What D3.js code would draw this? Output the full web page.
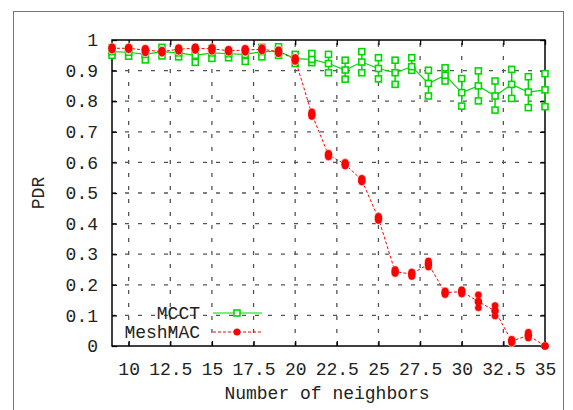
<!DOCTYPE html>
<html>
<head>
<meta charset="utf-8">
<script src="https://cdn.jsdelivr.net/npm/d3@7"></script>
<style>
  body { margin: 0; background: #fff; }
  text { font-family: "Liberation Mono", "DejaVu Sans Mono", monospace; fill: #222; }
</style>
</head>
<body>
<script>
// number of neighbors (x)
var neighbors = [9, 10, 11, 12, 13, 14, 15, 16, 17, 18, 19, 20, 21, 22, 23, 24, 25, 26, 27, 28, 29, 30, 31, 32, 33, 34, 35];

// MCCT: mean, lower, upper
var mcctMean = [0.962, 0.960, 0.953, 0.962, 0.958, 0.950, 0.958, 0.955, 0.953, 0.962, 0.963, 0.939, 0.937, 0.923, 0.902, 0.928, 0.907, 0.893, 0.913, 0.858, 0.885, 0.828, 0.850, 0.817, 0.855, 0.830, 0.837];
var mcctLow  = [0.950, 0.947, 0.935, 0.948, 0.945, 0.927, 0.940, 0.942, 0.930, 0.945, 0.950, 0.923, 0.926, 0.893, 0.872, 0.893, 0.873, 0.855, 0.901, 0.817, 0.866, 0.784, 0.801, 0.771, 0.809, 0.779, 0.782];
var mcctHigh = [0.975, 0.972, 0.962, 0.976, 0.970, 0.968, 0.972, 0.965, 0.966, 0.976, 0.978, 0.953, 0.956, 0.953, 0.934, 0.962, 0.942, 0.934, 0.942, 0.901, 0.909, 0.874, 0.899, 0.866, 0.904, 0.880, 0.890];

// MeshMAC: mean, lower, upper
var meshMean = [0.973, 0.973, 0.967, 0.962, 0.970, 0.973, 0.971, 0.965, 0.967, 0.970, 0.962, 0.937, 0.758, 0.624, 0.594, 0.542, 0.417, 0.243, 0.235, 0.268, 0.174, 0.178, 0.145, 0.115, 0.016, 0.035, 0.0];
var meshLow  = [0.967, 0.968, 0.958, 0.957, 0.963, 0.966, 0.963, 0.960, 0.960, 0.964, 0.955, 0.930, 0.750, 0.618, 0.588, 0.536, 0.410, 0.237, 0.227, 0.258, 0.168, 0.170, 0.125, 0.098, 0.010, 0.026, 0.0];
var meshHigh = [0.978, 0.977, 0.973, 0.967, 0.975, 0.978, 0.976, 0.970, 0.973, 0.975, 0.968, 0.943, 0.765, 0.630, 0.600, 0.548, 0.424, 0.250, 0.242, 0.278, 0.180, 0.184, 0.167, 0.132, 0.022, 0.045, 0.0];

var xTicks = [10, 12.5, 15, 17.5, 20, 22.5, 25, 27.5, 30, 32.5, 35];
var yTicks = [0, 0.1, 0.2, 0.3, 0.4, 0.5, 0.6, 0.7, 0.8, 0.9, 1];

var W = 573, H = 410;
var mLeft = 112, mRight = 545, mTop = 40, mBottom = 346;
var green = "#00d800", red = "#ff0000";
var fs = 18;

var svg = d3.select("body").append("svg").attr("width", W).attr("height", H);

// outer figure border
svg.append("rect")
  .attr("x", 13.5).attr("y", 11.5).attr("width", 550).attr("height", 410)
  .attr("fill", "none").attr("stroke", "#777").attr("stroke-width", 1);

var x = d3.scaleLinear().domain([9, 35]).range([mLeft, mRight]);
var y = d3.scaleLinear().domain([0, 1]).range([mBottom, mTop]);

// grid
var grid = svg.append("g").attr("stroke", "#555").attr("stroke-width", 1.3).attr("stroke-dasharray", "4,9");
grid.selectAll(".gx").data(xTicks.filter(d => d < 35)).enter().append("line")
  .attr("x1", d => x(d)).attr("x2", d => x(d)).attr("y1", mBottom).attr("y2", mTop);
grid.selectAll(".gy").data(yTicks.filter(d => d > 0 && d < 1)).enter().append("line")
  .attr("x1", mLeft).attr("x2", mRight).attr("y1", d => y(d)).attr("y2", d => y(d));

// axes with inward ticks, mirrored
svg.append("g").attr("transform", "translate(0," + mBottom + ")")
  .call(d3.axisBottom(x).tickValues(xTicks).tickSizeInner(-5).tickSizeOuter(0).tickPadding(16)
    .tickFormat(d => String(d)))
  .call(g => g.select(".domain").remove())
  .call(g => g.selectAll("text").attr("font-size", fs).attr("font-family", "Liberation Mono").attr("fill", "#222"));
svg.append("g").attr("transform", "translate(" + mLeft + ",0)")
  .call(d3.axisLeft(y).tickValues(yTicks).tickSizeInner(-5).tickSizeOuter(0).tickPadding(14)
    .tickFormat(d => String(d)))
  .call(g => g.select(".domain").remove())
  .call(g => g.selectAll("text").attr("font-size", fs).attr("font-family", "Liberation Mono").attr("fill", "#222"));
svg.append("g").attr("transform", "translate(0," + mTop + ")")
  .call(d3.axisTop(x).tickValues(xTicks).tickSizeInner(-5).tickSizeOuter(0).tickFormat(""))
  .call(g => g.select(".domain").remove());
svg.append("g").attr("transform", "translate(" + mRight + ",0)")
  .call(d3.axisRight(y).tickValues(yTicks).tickSizeInner(-5).tickSizeOuter(0).tickFormat(""))
  .call(g => g.select(".domain").remove());
svg.selectAll(".tick line").attr("stroke", "#000").attr("stroke-width", 1.3);

// frame
svg.append("rect").attr("x", mLeft).attr("y", mTop).attr("width", mRight - mLeft).attr("height", mBottom - mTop)
  .attr("fill", "none").attr("stroke", "#000").attr("stroke-width", 1.5);

// axis titles
svg.append("text").attr("x", 327).attr("y", 399).attr("text-anchor", "middle")
  .attr("font-size", fs).text("Number of neighbors");
svg.append("text").attr("transform", "translate(44,193) rotate(-90)").attr("text-anchor", "middle")
  .attr("font-size", fs).text("PDR");

function rows(mean, lo, hi) {
  return neighbors.map((n, i) => ({ n: n, m: mean[i], lo: lo[i], hi: hi[i] }));
}
var mcct = rows(mcctMean, mcctLow, mcctHigh);
var mesh = rows(meshMean, meshLow, meshHigh);
var line = d3.line().x(d => x(d.n)).y(d => y(d.m));

// MCCT series
var gG = svg.append("g");
gG.append("path").datum(mcct).attr("d", line).attr("fill", "none").attr("stroke", green).attr("stroke-width", 1.2);
gG.selectAll(".eb").data(mcct).enter().append("line")
  .attr("x1", d => x(d.n)).attr("x2", d => x(d.n)).attr("y1", d => y(d.lo)).attr("y2", d => y(d.hi))
  .attr("stroke", green).attr("stroke-width", 1.5);
mcct.forEach(function (d) {
  [d.lo, d.m, d.hi].forEach(function (v) {
    gG.append("rect").attr("x", x(d.n) - 3).attr("y", y(v) - 3).attr("width", 6).attr("height", 6)
      .attr("fill", "#fff").attr("stroke", green).attr("stroke-width", 1.6);
  });
});

// MeshMAC series
var gR = svg.append("g");
gR.append("path").datum(mesh).attr("d", line).attr("fill", "none").attr("stroke", red)
  .attr("stroke-width", 1).attr("stroke-dasharray", "3,2");
gR.selectAll(".eb").data(mesh).enter().append("line")
  .attr("x1", d => x(d.n)).attr("x2", d => x(d.n)).attr("y1", d => y(d.lo)).attr("y2", d => y(d.hi))
  .attr("stroke", red).attr("stroke-width", 1.5);
mesh.forEach(function (d) {
  [d.lo, d.hi, d.m].forEach(function (v, k) {
    gR.append("circle").attr("cx", x(d.n)).attr("cy", y(v)).attr("r", 3.8)
      .attr("fill", red).attr("stroke", k < 2 ? "#fff" : "none").attr("stroke-width", 0.6);
  });
});

// legend
var lg = svg.append("g");
lg.append("text").attr("x", 200).attr("y", 319).attr("text-anchor", "end").attr("font-size", fs).text("MCCT");
lg.append("line").attr("x1", 213).attr("x2", 262).attr("y1", 313).attr("y2", 313).attr("stroke", green).attr("stroke-width", 1.2);
lg.append("rect").attr("x", 234).attr("y", 310).attr("width", 6).attr("height", 6)
  .attr("fill", "#fff").attr("stroke", green).attr("stroke-width", 1.6);
lg.append("text").attr("x", 200).attr("y", 338).attr("text-anchor", "end").attr("font-size", fs).text("MeshMAC");
lg.append("line").attr("x1", 213).attr("x2", 262).attr("y1", 332).attr("y2", 332).attr("stroke", red)
  .attr("stroke-width", 1).attr("stroke-dasharray", "3,2");
lg.append("circle").attr("cx", 237).attr("cy", 332).attr("r", 3.5).attr("fill", red);
</script>
</body>
</html>
